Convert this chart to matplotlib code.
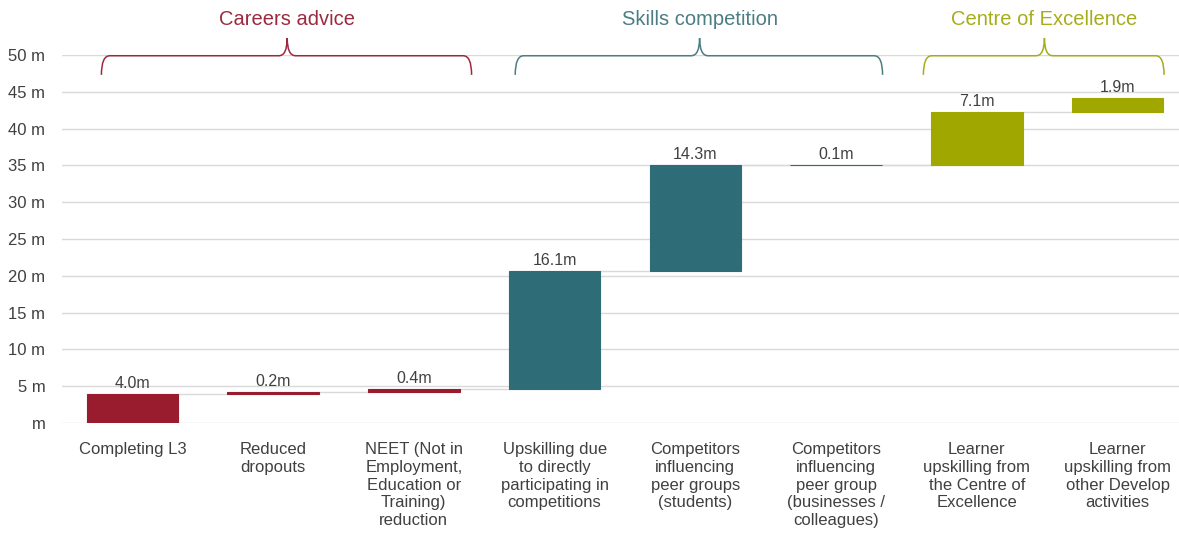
import numpy as np
import matplotlib.pyplot as plt
from matplotlib.path import Path
from matplotlib.patches import PathPatch

plt.rcParams['font.family'] = ['Liberation Sans', 'DejaVu Sans']

categories = [
    'Completing L3',
    'Reduced\ndropouts',
    'NEET (Not in\nEmployment,\nEducation or\nTraining)\nreduction',
    'Upskilling due\nto directly\nparticipating in\ncompetitions',
    'Competitors\ninfluencing\npeer groups\n(students)',
    'Competitors\ninfluencing\npeer group\n(businesses /\ncolleagues)',
    'Learner\nupskilling from\nthe Centre of\nExcellence',
    'Learner\nupskilling from\nother Develop\nactivities',
]
values = [4.0, 0.2, 0.4, 16.1, 14.3, 0.1, 7.1, 1.9]
groups = [0, 0, 0, 1, 1, 1, 2, 2]

group_names = ['Careers advice', 'Skills competition', 'Centre of Excellence']
group_colors = ['#981b2e', '#2e6d78', '#a0a800']
title_colors = ['#9b2a40', '#4b7d84', '#a6ad1a']
# bracket extents in category units: left, right, tip
brackets = [(-0.22, 2.41, 1.10), (2.72, 5.33, 4.03), (5.62, 7.33, 6.48)]

ends = np.cumsum(values)
starts = ends - np.array(values)
x = np.arange(len(values))
w = 0.65

fig = plt.figure(figsize=(11.79, 5.39), dpi=100)
ax = fig.add_axes([62 / 1179, 116 / 539, 1126 / 1179, 368 / 539])

bar_cols = [group_colors[g] for g in groups]
ax.bar(x, values, bottom=starts, width=w, color=bar_cols,
       edgecolor=bar_cols, linewidth=0.8, zorder=3)

# connectors between consecutive bars
for i in range(len(values) - 1):
    ax.plot([x[i] + w / 2, x[i + 1] - w / 2], [ends[i], ends[i]],
            color='#d9d9d9', lw=1, zorder=2)

for xi, v, e in zip(x, values, ends):
    ax.text(xi, e + 0.4, f'{v:.1f}m', ha='center', va='bottom',
            fontsize=11.5, color='#404040')

ax.set_xlim(-0.5, 7.5)
ax.set_ylim(0, 50)
ax.set_yticks(np.arange(0, 51, 5))
ax.set_yticklabels(['m'] + [f'{t} m' for t in range(5, 51, 5)])
ax.set_xticks(x)
ax.set_xticklabels(categories, linespacing=1.22)
ax.tick_params(length=0, labelsize=12, labelcolor='#404040')
ax.tick_params(axis='x', pad=14)
ax.tick_params(axis='y', pad=12)
ax.grid(axis='y', color='#d9d9d9', lw=1, zorder=0)
for s in ax.spines.values():
    s.set_visible(False)


def brace(x0, x1, xm, color):
    y_top, y_end, y_tip = 49.9, 47.3, 52.3
    dx = 0.06
    verts = [
        (x0, y_end), (x0, y_top), (x0 + dx, y_top),
        (xm - dx, y_top), (xm, y_top), (xm, y_tip),
        (xm, y_top), (xm + dx, y_top),
        (x1 - dx, y_top), (x1, y_top), (x1, y_end),
    ]
    codes = [Path.MOVETO, Path.CURVE3, Path.CURVE3,
             Path.LINETO, Path.CURVE3, Path.CURVE3,
             Path.CURVE3, Path.CURVE3,
             Path.LINETO, Path.CURVE3, Path.CURVE3]
    ax.add_patch(PathPatch(Path(verts, codes), fill=False, edgecolor=color,
                           lw=1.1, clip_on=False, zorder=4))


for (x0, x1, xm), name, tc in zip(brackets, group_names, title_colors):
    brace(x0, x1, xm, tc)
    ax.text(xm, 54.8, name, ha='center', va='center', fontsize=14.5,
            color=tc, clip_on=False)

fig.savefig('out.png', dpi=100)
